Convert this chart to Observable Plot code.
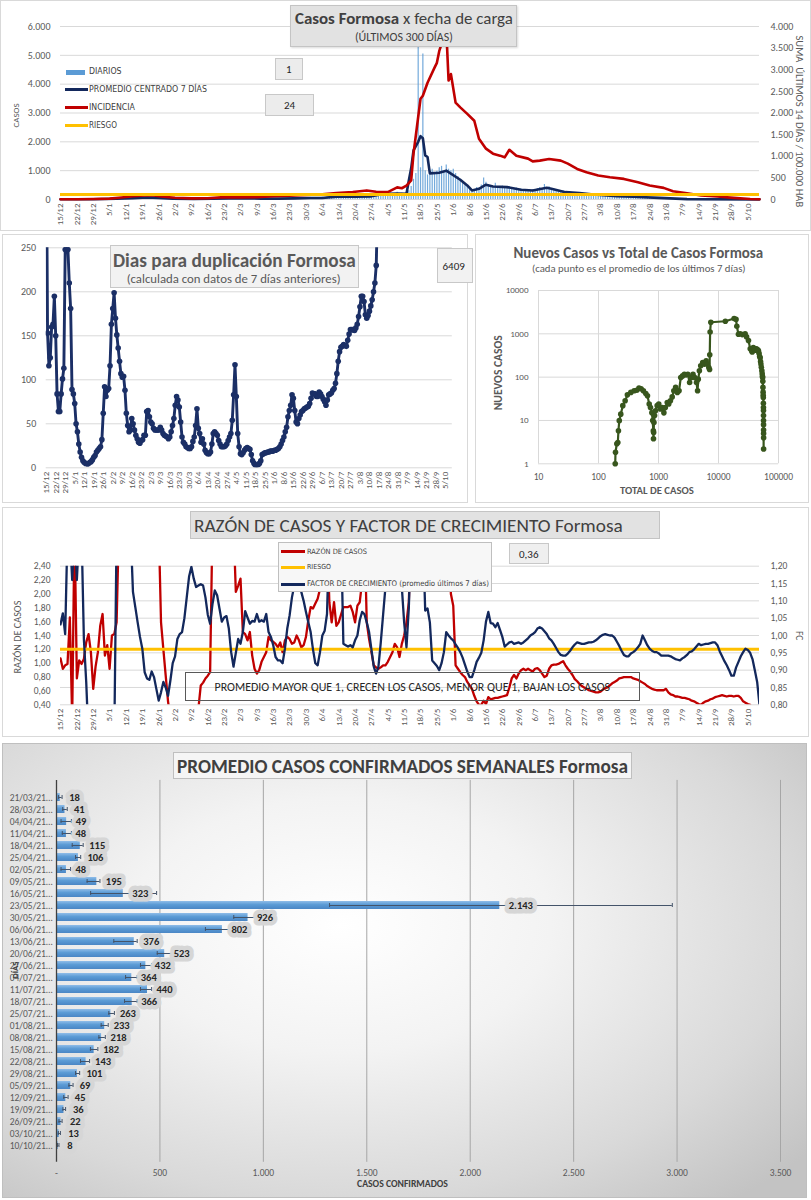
<!DOCTYPE html>
<html lang="es">
<head>
<meta charset="utf-8">
<script src="https://cdn.jsdelivr.net/npm/d3@7"></script>
<script src="https://cdn.jsdelivr.net/npm/@observablehq/plot@0.6"></script>
<style>
html,body{margin:0;padding:0;background:#fff;}
#root{position:relative;width:811px;height:1200px;overflow:hidden;background:#fff;}
</style>
</head>
<body>
<div id="root"></div>
<script>
// ================= DATA =================
// Panel 1: Casos Formosa x fecha de carga
const incidFechas = ["2020-12-15","2020-12-22","2020-12-29","2021-01-05","2021-01-10","2021-01-15","2021-01-20","2021-01-24","2021-01-28","2021-02-02","2021-02-09","2021-02-16","2021-02-23","2021-03-02","2021-03-09","2021-03-16","2021-03-23","2021-03-30","2021-04-06","2021-04-12","2021-04-19","2021-04-25","2021-04-29","2021-05-04","2021-05-08","2021-05-10","2021-05-12","2021-05-14","2021-05-15","2021-05-16","2021-05-18","2021-05-19","2021-05-21","2021-05-24","2021-05-25","2021-05-26","2021-05-27","2021-05-29","2021-05-30","2021-05-31","2021-06-02","2021-06-04","2021-06-07","2021-06-10","2021-06-12","2021-06-15","2021-06-18","2021-06-21","2021-06-23","2021-06-25","2021-06-28","2021-07-03","2021-07-05","2021-07-08","2021-07-12","2021-07-17","2021-07-20","2021-07-24","2021-07-28","2021-08-02","2021-08-07","2021-08-13","2021-08-19","2021-08-24","2021-08-30","2021-09-03","2021-09-09","2021-09-15","2021-09-22","2021-09-29","2021-10-06","2021-10-10"];
const incidValores = [5,5,10,20,45,75,95,95,65,40,25,30,55,50,55,75,90,105,120,150,175,210,180,170,280,260,320,440,1060,1480,2330,2400,2700,3050,3160,3430,3600,3950,2750,2900,2240,2130,1980,1820,1405,1175,1060,1014,975,1150,1014,945,882,899,937,899,829,707,630,553,514,476,399,322,269,192,145,92,69,38,10,5];
const promFechas = ["2020-12-15","2020-12-29","2021-01-08","2021-01-15","2021-01-21","2021-01-26","2021-02-01","2021-02-10","2021-02-18","2021-02-25","2021-03-04","2021-03-11","2021-03-18","2021-03-25","2021-04-01","2021-04-06","2021-04-12","2021-04-20","2021-04-27","2021-05-02","2021-05-08","2021-05-12","2021-05-13","2021-05-14","2021-05-15","2021-05-17","2021-05-18","2021-05-19","2021-05-20","2021-05-21","2021-05-22","2021-05-26","2021-05-29","2021-05-31","2021-06-04","2021-06-07","2021-06-09","2021-06-12","2021-06-15","2021-06-18","2021-06-24","2021-06-30","2021-07-05","2021-07-11","2021-07-13","2021-07-19","2021-07-25","2021-07-31","2021-08-10","2021-08-17","2021-08-28","2021-09-09","2021-10-10"];
const promValores = [10,10,25,45,70,55,25,15,25,40,40,30,30,40,50,50,100,100,110,190,210,200,660,1080,1700,2000,2195,2125,1530,1475,905,930,1000,895,686,488,314,372,512,453,430,340,314,406,372,255,220,174,116,93,58,12,5];
const diariosInicio = "2021-03-29";
const diarios = [40,55,30,
 70,45,60,50,65,80,45,90,70,100,60,110,95,130,85,100,120,90,105,85,120,95,110,130,100,140,95,110,150,120,
 180,160,200,170,230,190,210,250,180,220,190,240,300,450,700,900,6100,1100,5050,1000,850,950,1050,900,980,1100,1150,950,1200,1050,1000,
 1050,900,800,700,620,500,450,350,300,280,420,380,500,750,600,520,480,430,560,450,400,470,430,380,450,410,350,400,330,360,
 300,340,320,280,350,310,380,420,360,520,400,440,380,350,320,290,270,300,250,230,260,220,240,210,200,230,190,210,180,170,190,
 160,150,170,140,150,130,140,120,130,110,120,100,115,95,105,90,100,85,95,80,85,70,80,65,70,60,65,55,60,50,55,
 45,40,42,35,38,30,32,28,25,27,22,24,20,18,20,16,15,14,12,13,10,11,9,10,8,9,7,6,8,5,
 6,5,4,5,3,4,2,3,2,1];
const riesgoIncidencia = 115;
const inicioSerie = "2020-12-15"; // día 0 de las series diarias

// Panel 2a: días para duplicación (diario desde 15/12/2020)
const duplicacion = [400,153,116,125,160,163,195,150,84,64,
 64,84,101,113,248,300,248,210,181,89,
 84,73,50,41,27,18,12,8,6,5,
 4.5,4.5,6,7,9,12,14,18,20,22,
 24,32,62,92,81,88,90,116,163,181,
 199,170,151,136,121,107,103,104,88,62,
 48,41,43,56,50,43,37,33,29,28,
 31,32,37,37,64,65,58,52,50,45,
 43,43,43,43,46,43,39,37,36,35,
 33,35,41,48,56,71,81,77,69,52,
 35,29,27,24,23,22,22,24,30,35,
 48,67,45,39,29,33,27,20,17,16,
 16,18,27,39,41,39,37,31,27,24,
 24,24,25,27,31,35,39,54,83,117,
 81,39,24,16,15,17,20,22,23,22,
 21,15,8,5,3,3,3.5,5,8,15,
 16,17,17,18,18,19,19,19,20,20,
 21,22,24,27,31,35,41,46,58,65,
 71,83,79,65,52,50,56,60,64,65,
 67,68,69,70,73,79,85,84,84,81,
 81,86,84,81,78,75,71,77,83,84,
 85,88,90,96,107,121,132,137,138,140,
 139,138,145,152,157,157,157,156,159,163,
 172,183,195,195,189,174,170,173,178,184,
 191,200,210,230,300];

// Panel 2b: nuevos casos vs total de casos
const totalCasos = [190,192,202,210,215,222,235,254,278,303,346,393,435,473,513,560,614,655,700,735,775,800,820,825,830,840,860,890,950,1010,1080,1150,1230,1300,1400,1480,1580,1690,1800,1930,2060,2200,2350,2520,2700,2880,3080,3300,3520,3760,4020,4300,4480,4600,4800,5050,5450,5820,6230,6560,6900,7100,7150,7250,7450,13000,18200,19600,20200,21500,23000,25000,27800,29400,31600,33800,35900,36500,37200,38000,39000,40000,40800,41500,42500,43600,44500,45500,46400,47500,48500,49500,50300,51000,51800,52800,53500,54000,54400,54800,55100,55400,55600,55800,56000,56100,56200,56250,56300,56350,56400,56450,56480,56500];
const nuevosCasos = [1,1.85,2.9,3.1,5.8,9.9,14,22,28.5,39,44.5,48.5,50,56,54,48.5,42,37,24,20,15,10,5.8,3.8,5.3,9,13,16.8,22,24,18.4,20,15,20,26,24,28.5,35,48.5,58,44.5,48.5,98,107,117,113,117,75,98,117,98,75,48.5,90,140,183,218,200,237,200,166,150,330,1100,1850,1950,2250,2150,1500,980,1000,960,1000,850,700,450,400,380,420,480,460,430,440,420,450,440,410,420,400,350,300,280,230,200,170,140,120,105,98,80,58,45,38,34,25,20,17,13,10,8,6,5,4,2.2];

// Panel 3: razón de casos (eje izq.) y factor de crecimiento (eje der.), diarios desde 15/12/2020
const razonCasos = [1.07,0.92,0.97,0.99,1.66,0.2,3,0.78,1.04,0.99,
 1.06,1.30,1.42,1.16,0.63,0.95,1.16,1.54,1.71,1.11,
 1.26,0.92,1.40,1.42,1.59,3,3,3,3,3,
 3,3,3,3,3,3,3,3,3,3,
 3,3,3,1.59,1.20,0.82,0.45,0.2,0.2,0.2,
 0.2,0.2,0.2,0.2,0.2,0.2,0.2,0.2,0.2,0.35,
 0.68,0.72,0.78,0.82,0.87,3,3,3,3,3,
 3,3,3,3,3,2.03,2.12,2.22,1.45,1.42,
 1.33,1.45,1.11,0.92,0.85,0.90,1.02,1.09,1.16,1.38,
 1.33,1.31,1.28,1.23,1.30,1.16,1.33,1.38,1.35,1.28,
 1.30,1.40,1.33,1.23,1.26,1.38,1.62,1.81,1.79,1.86,
 1.93,2.07,3,3,3,1.88,1.59,1.88,1.54,1.59,
 1.70,1.81,1.81,1.81,1.83,1.74,1.59,1.83,1.88,2.17,
 3,1.59,1.35,1.16,0.97,0.94,0.92,0.94,0.97,0.97,
 1.02,1.09,1.16,1.28,1.23,1.09,1.28,1.40,1.59,1.88,
 3,3,3,3,3,3,3,3,3,3,
 3,3,3,3,3,3,3,2.00,1.83,0.97,
 0.92,0.87,0.83,0.80,0.73,0.68,0.63,0.53,0.45,0.40,
 0.40,0.46,0.41,0.51,0.48,0.49,0.50,0.50,0.51,0.52,
 0.53,0.54,0.65,0.78,0.83,0.78,0.85,0.90,0.92,0.90,
 0.92,0.90,0.88,0.92,0.93,0.90,0.85,0.80,0.82,0.92,
 0.97,0.98,0.98,0.99,1.01,1.03,0.97,0.92,0.88,0.83,
 0.77,0.74,0.70,0.67,0.65,0.63,0.61,0.60,0.59,0.58,
 0.58,0.59,0.62,0.64,0.65,0.68,0.71,0.73,0.75,0.78,
 0.79,0.80,0.80,0.80,0.80,0.78,0.77,0.76,0.74,0.72,
 0.70,0.67,0.65,0.63,0.62,0.61,0.61,0.61,0.61,0.63,
 0.58,0.55,0.54,0.52,0.52,0.51,0.50,0.50,0.49,0.48,
 0.46,0.45,0.43,0.41,0.40,0.43,0.45,0.46,0.48,0.49,
 0.51,0.52,0.53,0.54,0.53,0.52,0.53,0.53,0.52,0.53,
 0.53,0.50,0.45,0.43,0.41,0.40];
const factorCrecimiento = [1.032,1.064,1.004,1.3,1.3,1.16,1.3,1.16,1.3,1.3,
 0.99,0.866,0.7,0.7,0.7,0.7,0.7,0.7,0.7,0.7,
 0.7,0.7,0.7,0.7,1.3,1.3,1.3,1.3,1.3,1.3,
 1.3,1.126,1.082,1.038,0.996,0.962,0.894,0.876,0.872,0.896,
 0.88,0.846,0.812,0.836,0.866,0.85,0.826,0.87,0.92,0.94,
 0.99,1.004,1.01,1.05,1.11,1.17,1.198,1.164,1.14,1.144,
 1.148,1.144,1.11,1.06,1.034,1.09,1.13,1.116,1.078,1.04,
 1.052,1.056,1.02,0.952,0.91,0.95,0.99,0.976,1.01,1.07,
 1.052,1.034,1.042,1.04,1.062,1.04,1.044,1.04,1.062,1.01,
 0.996,0.972,0.938,0.928,0.928,0.92,0.962,1.02,1.058,1.11,
 1.144,1.3,1.3,1.126,1.10,1.068,1.038,1.01,0.96,0.92,
 0.914,0.952,1.00,1.014,1.062,1.3,1.3,1.3,1.3,1.3,
 1.3,0.976,0.972,0.968,0.972,0.966,0.986,1.00,1.044,1.068,
 1.062,1.038,1.01,0.96,0.91,0.89,0.91,0.98,1.06,1.14,
 1.3,1.3,1.3,1.3,1.3,1.3,1.14,1.038,0.966,1.08,
 1.3,1.3,1.3,1.3,1.3,1.3,1.072,1.078,1.038,0.928,
 0.92,0.912,0.90,0.92,0.952,1.01,1.00,0.992,0.986,0.974,
 0.964,0.952,0.936,0.916,0.896,0.88,0.88,0.90,0.924,0.936,
 0.95,0.986,1.04,1.068,1.036,1.034,1.024,1.036,1.016,0.996,
 0.968,0.974,0.98,0.982,0.976,0.978,0.98,0.976,0.98,0.986,
 0.992,1.00,1.004,1.01,1.02,1.024,1.02,1.012,1.004,0.992,
 0.986,0.976,0.964,0.952,0.944,0.942,0.942,0.948,0.956,0.966,
 0.974,0.98,0.978,0.976,0.976,0.978,0.98,0.98,0.982,0.986,
 0.992,0.998,1.002,1.004,1.002,1.00,1.00,0.994,0.982,0.97,
 0.956,0.944,0.94,0.94,0.948,0.952,0.958,0.966,0.976,1.00,
 0.986,0.972,0.962,0.956,0.952,0.952,0.948,0.942,0.942,0.942,
 0.942,0.94,0.936,0.932,0.93,0.928,0.934,0.938,0.944,0.952,
 0.954,0.96,0.968,0.976,0.972,0.974,0.976,0.976,0.978,0.98,
 0.98,0.972,0.954,0.94,0.926,0.914,0.90,0.884,0.884,0.908,
 0.924,0.94,0.952,0.962,0.958,0.95,0.932,0.90,0.866,0.80];
const riesgoRazon = 1.2;

// Panel 4: promedio casos confirmados semanales
const semanas = ["21/03/21","28/03/21","04/04/21","11/04/21","18/04/21","25/04/21","02/05/21","09/05/21","16/05/21","23/05/21","30/05/21","06/06/21","13/06/21","20/06/21","27/06/21","04/07/21","11/07/21","18/07/21","25/07/21","01/08/21","08/08/21","15/08/21","22/08/21","29/08/21","05/09/21","12/09/21","19/09/21","26/09/21","03/10/21","10/10/21"];
const promedioSemanal = [18,41,49,48,115,106,48,195,323,2143,926,802,376,523,432,364,440,366,263,233,218,182,143,101,69,45,36,22,13,8];
const errorInferior = [10,30,22,28,76,92,22,148,165,1320,857,720,277,487,406,334,406,329,253,216,205,164,116,92,60,35,31,12,9,5];
const errorSuperior = [27,52,72,72,129,117,68,210,484,2977,995,880,390,560,460,390,460,390,280,250,236,200,160,112,80,56,44,27,19,12];

// ================= HELPERS =================
const FONT = 'Carlito, Lato, "Open Sans", sans-serif';
const NARROW = '"Liberation Sans Narrow", "DejaVu Sans Condensed", "Roboto Condensed", Roboto, sans-serif';
const loc = d3.formatLocale({decimal: ",", thousands: ".", grouping: [3], currency: ["", ""]});
const fInt = loc.format(",.0f");
const fDec2 = loc.format(".2f");
const utc = s => new Date(s + "T00:00:00Z");
const day0 = utc(inicioSerie);
const dayN = d => d3.utcDay.offset(day0, d);
const weekTicks = d3.range(0, 295, 7).map(dayN);
const fmtDM = d3.utcFormat("%-d/%-m");
const root = document.getElementById("root");

function box(x, y, w, h, style = {}) {
  const d = document.createElement("div");
  Object.assign(d.style, {position: "absolute", left: x + "px", top: y + "px", width: w + "px", height: h + "px", boxSizing: "border-box"}, style);
  root.appendChild(d);
  return d;
}
function label(html, o) {
  const el = document.createElement("div");
  el.innerHTML = html;
  Object.assign(el.style, {position: "absolute", whiteSpace: "nowrap", lineHeight: "1", fontFamily: o.family || FONT,
    fontSize: o.size + "px", fontWeight: o.weight || "normal", color: o.color || "#595959", left: "0px", top: "0px"});
  root.appendChild(el);
  if (o.w) {
    const m = el.getBoundingClientRect().width;
    if (m > 0) {
      const k = Math.max(0.6, Math.min(1.6, o.w / m));
      el.style.fontSize = (o.size * k) + "px";
    }
  }
  const w = el.offsetWidth, h = el.offsetHeight;
  const left = o.cx != null ? o.cx - w / 2 : o.x;
  el.style.left = left + "px";
  el.style.top = (o.cy - h / 2) + "px";
  if (o.rotate) el.style.transform = `rotate(${o.rotate}deg)`;
  return el;
}
function place(svg, x, y) {
  svg.style.position = "absolute";
  svg.style.left = x + "px";
  svg.style.top = y + "px";
  root.appendChild(svg);
}
const baseStyle = {background: "transparent", fontFamily: FONT, fontSize: "9px", color: "#595959", overflow: "visible"};
const FRAME = {border: "1px solid #d9d9d9", background: "#fff"};

// ================= PANEL FRAMES =================
box(0, 0, 811, 231, FRAME);
box(2, 234, 466, 269, FRAME);
box(475, 234, 334, 269, FRAME);
box(2, 507, 807, 230, FRAME);
box(2, 743, 805, 455, {border: "1px solid #bfbfbf",
  background: "radial-gradient(ellipse 75% 80% at 42% 40%, #ffffff 0%, #f3f3f3 35%, #d9d9d9 75%, #c3c3c3 100%)"});

// ================= PANEL 1 =================
const incid = incidFechas.map((f, i) => ({date: utc(f), v: incidValores[i]}));
const prom = promFechas.map((f, i) => ({date: utc(f), v: promValores[i]}));
const d0b = utc(diariosInicio);
const diariosData = diarios.map((v, i) => ({date: d3.utcDay.offset(d0b, i), v}));
const K = 6000 / 4000; // eje derecho -> eje izquierdo

const p1 = Plot.plot({
  width: 811, height: 232, marginLeft: 60, marginRight: 52, marginTop: 26, marginBottom: 33,
  style: baseStyle,
  x: {type: "utc", domain: [day0, dayN(299)]},
  y: {domain: [0, 6000]},
  marks: [
    Plot.gridY(d3.range(0, 6001, 1000), {stroke: "#d9d9d9", strokeOpacity: 1}),
    Plot.axisY({ticks: d3.range(0, 6001, 1000), tickFormat: fInt, tickSize: 0, tickPadding: 10, label: null, fontSize: 10}),
    Plot.text(d3.range(0, 4001, 500), {y: d => d * K, text: d => fInt(d), frameAnchor: "right", dx: 11, textAnchor: "start", fontSize: 10, fill: "#595959"}),
    Plot.axisX({ticks: weekTicks, tickFormat: fmtDM, tickRotate: -90, tickSize: 0, tickPadding: 4, label: null, fontSize: 9}),
    Plot.ruleX(diariosData, {x: "date", y: "v", stroke: "#5b9bd5", strokeWidth: 1.2, strokeOpacity: 0.85}),
    Plot.line(prom, {x: "date", y: "v", stroke: "#13285c", strokeWidth: 2.6}),
    Plot.line(incid, {x: "date", y: d => d.v * K, stroke: "#c00000", strokeWidth: 2.6}),
    Plot.ruleY([riesgoIncidencia * K], {stroke: "#ffc000", strokeWidth: 3})
  ]
});
place(p1, 0, 0);

// overlays panel 1
box(290, 5, 227, 42, {background: "#e2e2e2", border: "1px solid #c4c4c4", boxShadow: "1px 1px 2px rgba(0,0,0,0.15)"});
label('<b>Casos Formosa</b> x fecha de carga', {cx: 404, cy: 19, size: 15, w: 218, color: "#404040"});
label('(ÚLTIMOS 300 DÍAS)', {cx: 404, cy: 38, size: 10, w: 98, color: "#404040"});
box(66, 69.5, 19, 5, {background: "#5b9bd5"});
box(65, 87.7, 23, 3, {background: "#13285c"});
box(65, 105.8, 23, 3, {background: "#c00000"});
box(65, 123.8, 23, 3, {background: "#ffc000"});
label('DIARIOS', {x: 89, cy: 71.7, size: 8.5, w: 32.6, family: NARROW, color: "#404040"});
label('PROMEDIO CENTRADO 7 DÍAS', {x: 89, cy: 89.3, size: 8.5, w: 118, family: NARROW, color: "#404040"});
label('INCIDENCIA', {x: 89, cy: 107.4, size: 8.5, w: 46, family: NARROW, color: "#404040"});
label('RIESGO', {x: 89, cy: 125.4, size: 8.5, w: 28, family: NARROW, color: "#404040"});
box(275, 58, 28, 22, {background: "#ececec", border: "1px solid #c8c8c8"});
label('1', {cx: 289, cy: 69, size: 11, color: "#262626"});
box(265, 94, 49, 22, {background: "#ececec", border: "1px solid #c8c8c8"});
label('24', {cx: 289.5, cy: 105, size: 11, color: "#262626"});
label('CASOS', {cx: 15.5, cy: 115, size: 9, w: 24, rotate: -90});
label('SUMA&nbsp;&nbsp;ÚLTIMOS 14 DÍAS / 100.000 HAB', {cx: 799, cy: 121, size: 10, w: 172, rotate: 90});

// ================= PANEL 2a =================
const dup = duplicacion.map((v, i) => ({date: dayN(i), v}));
const p2 = Plot.plot({
  width: 470, height: 273, marginLeft: 45.7, marginRight: 18.2, marginTop: 17.3, marginBottom: 35.7,
  style: baseStyle,
  x: {type: "utc", domain: [day0, dayN(299)]},
  y: {domain: [0, 250]},
  marks: [
    Plot.gridY([0, 50, 100, 150, 200, 250], {stroke: "#d9d9d9", strokeOpacity: 1}),
    Plot.axisY({ticks: [0, 50, 100, 150, 200, 250], tickSize: 0, tickPadding: 10, label: null, fontSize: 10}),
    Plot.axisX({ticks: weekTicks, tickFormat: fmtDM, tickRotate: -90, tickSize: 0, tickPadding: 4, label: null, fontSize: 9}),
    Plot.line(dup, {x: "date", y: "v", stroke: "#1b2f66", strokeWidth: 2.9, clip: true}),
    Plot.dot(dup, {x: "date", y: "v", r: 2.8, fill: "#1b2f66", clip: true})
  ]
});
place(p2, 0, 230);
box(110, 245, 249, 43, {background: "#f2f2f2", border: "1px solid #c8c8c8"});
label('Dias para duplicación Formosa', {cx: 234.5, cy: 260, size: 18, w: 243, weight: "bold"});
label('(calculada con datos de 7 días anteriores)', {cx: 233.7, cy: 279.3, size: 12.5, w: 214});
box(437, 248, 36, 35, {background: "#f2f2f2", border: "1px solid #c8c8c8"});
label('6409', {cx: 453.5, cy: 266, size: 11, color: "#262626"});

// ================= PANEL 2b =================
const sc = totalCasos.map((t, i) => ({t, n: nuevosCasos[i]}));
const dec = [10, 100, 1000, 10000, 100000];
const decY = [1, 10, 100, 1000, 10000];
const p3 = Plot.plot({
  width: 341, height: 273, marginLeft: 68, marginRight: 33, marginTop: 60, marginBottom: 39.7,
  style: baseStyle,
  x: {type: "log", domain: [10, 100000]},
  y: {type: "log", domain: [1, 10000]},
  marks: [
    Plot.gridX(dec, {stroke: "#d9d9d9", strokeOpacity: 1}),
    Plot.gridY(decY, {stroke: "#d9d9d9", strokeOpacity: 1}),
    Plot.axisX({ticks: dec, tickFormat: d => String(d), tickSize: 0, tickPadding: 9, label: null, fontSize: 9.5}),
    Plot.axisY({ticks: decY, tickFormat: d => String(d), tickSize: 0, tickPadding: 10, label: null, fontSize: 9}),
    Plot.line(sc, {x: "t", y: "n", stroke: "#38561d", strokeWidth: 2.2}),
    Plot.dot(sc, {x: "t", y: "n", r: 2.8, fill: "#38561d"})
  ]
});
place(p3, 470, 230);
label('Nuevos Casos vs Total de Casos Formosa', {cx: 638.5, cy: 253, size: 15, w: 250, weight: "bold"});
label('(cada punto es el promedio de los últimos 7 días)', {cx: 639, cy: 269, size: 10, w: 214});
label('NUEVOS CASOS', {cx: 498, cy: 372.5, size: 10, w: 75, weight: "bold", rotate: -90});
label('TOTAL DE CASOS', {cx: 657, cy: 491.5, size: 10, w: 74, weight: "bold"});

// ================= PANEL 3 =================
const toL = f => (f - 0.72) * 5; // FC (eje der.) -> eje izq.
const razon = razonCasos.map((v, i) => ({date: dayN(i), v}));
const fc = factorCrecimiento.map((v, i) => ({date: dayN(i), v}));
const fcTicks = d3.range(0, 9).map(i => 0.8 + i * 0.05);
const p4 = Plot.plot({
  width: 811, height: 230, marginLeft: 60, marginRight: 52, marginTop: 58.7, marginBottom: 32.7,
  style: baseStyle,
  x: {type: "utc", domain: [day0, dayN(299)]},
  y: {domain: [0.4, 2.4]},
  marks: [
    Plot.gridY(fcTicks.map(toL), {stroke: "#d9d9d9", strokeOpacity: 1}),
    Plot.axisY({ticks: d3.range(0, 11).map(i => 0.4 + i * 0.2), tickFormat: fDec2, tickSize: 0, tickPadding: 10, label: null, fontSize: 9.5}),
    Plot.text(fcTicks, {y: toL, text: d => fDec2(d), frameAnchor: "right", dx: 11, textAnchor: "start", fontSize: 9.5, fill: "#595959"}),
    Plot.axisX({ticks: weekTicks, tickFormat: fmtDM, tickRotate: -90, tickSize: 0, tickPadding: 4, label: null, fontSize: 9}),
    Plot.line(razon, {x: "date", y: "v", stroke: "#c00000", strokeWidth: 2.3, clip: true}),
    Plot.ruleY([riesgoRazon], {stroke: "#ffc000", strokeWidth: 3}),
    Plot.line(fc, {x: "date", y: d => toL(d.v), stroke: "#13285c", strokeWidth: 2.3, clip: true})
  ]
});
place(p4, 0, 507);
box(190, 511, 470, 28, {background: "#e2e2e2", border: "1px solid #c4c4c4"});
label('RAZÓN DE CASOS Y FACTOR DE CRECIMIENTO Formosa', {cx: 408.5, cy: 525, size: 18, w: 429, color: "#404040"});
box(278, 542, 214, 50, {background: "#f7f7f7", border: "1px solid #bfbfbf"});
box(281, 550.2, 24, 3, {background: "#c00000"});
box(281, 566.2, 24, 3, {background: "#ffc000"});
box(281, 582.5, 24, 3, {background: "#13285c"});
label('RAZÓN DE CASOS', {x: 307, cy: 551.7, size: 7.5, w: 60, family: NARROW, color: "#404040"});
label('RIESGO', {x: 307, cy: 567.7, size: 7.5, w: 24, family: NARROW, color: "#404040"});
label('FACTOR DE CRECIMIENTO (promedio últimos 7 días)', {x: 307, cy: 584, size: 7.5, w: 182, family: NARROW, color: "#404040"});
box(508.5, 542.7, 40, 21.6, {background: "#efefef", border: "1px solid #c8c8c8"});
label('0,36', {cx: 528.5, cy: 554, size: 11, color: "#262626"});
box(185, 672, 455, 29, {border: "1px solid #595959"});
label('PROMEDIO MAYOR QUE 1, CRECEN LOS CASOS, MENOR QUE 1, BAJAN LOS CASOS', {cx: 412.6, cy: 687.5, size: 11.5, w: 396, color: "#262626"});
label('RAZÓN DE CASOS', {cx: 18.3, cy: 636.5, size: 9.5, w: 73, rotate: -90});
label('FC', {cx: 798, cy: 636, size: 9.5, rotate: 90});

// ================= PANEL 4 =================
const weekly = semanas.map((w, i) => ({w, v: promedioSemanal[i], lo: errorInferior[i], hi: errorSuperior[i]}));
const gradMark = () => {
  const ns = "http://www.w3.org/2000/svg";
  const defs = document.createElementNS(ns, "defs");
  defs.innerHTML = '<linearGradient id="gBar" x1="0" y1="0" x2="0" y2="1"><stop offset="0" stop-color="#8fbde9"/><stop offset="0.45" stop-color="#5b9bd5"/><stop offset="1" stop-color="#4a86c5"/></linearGradient>';
  return defs;
};
const p5 = Plot.plot({
  width: 811, height: 455, marginLeft: 56, marginRight: 31, marginTop: 36.9, marginBottom: 36.2,
  style: baseStyle,
  x: {domain: [0, 3500]},
  y: {type: "band", domain: semanas, padding: 0.34},
  marks: [
    gradMark,
    Plot.ruleX(d3.range(500, 3501, 500), {stroke: "#a6a6a6", strokeWidth: 1}),
    Plot.barX(weekly, {x: "v", y: "w", fill: "url(#gBar)"}),
    Plot.ruleY(weekly, {y: "w", x1: "lo", x2: "hi", stroke: "#44546a", strokeWidth: 1}),
    Plot.tickX(weekly, {x: "lo", y: "w", stroke: "#44546a", strokeWidth: 1, insetTop: 2, insetBottom: 2}),
    Plot.tickX(weekly, {x: "hi", y: "w", stroke: "#44546a", strokeWidth: 1, insetTop: 2, insetBottom: 2}),
    Plot.text(weekly, {x: "v", y: "w", text: d => fInt(d.v), dx: 9, textAnchor: "start", fontWeight: "bold", fontSize: 10.5, fill: "#d6d6d6", stroke: "#d6d6d6", strokeWidth: 9, strokeLinejoin: "round"}),
    Plot.text(weekly, {x: "v", y: "w", text: d => fInt(d.v), dx: 9, textAnchor: "start", fontWeight: "bold", fontSize: 10.5, fill: "#262626"}),
    Plot.ruleX([0], {stroke: "#404040", strokeWidth: 1.3}),
    Plot.axisY({tickFormat: w => w + "…", tickSize: 0, tickPadding: 4, label: null, fontSize: 9.5}),
    Plot.axisX({ticks: d3.range(0, 3501, 500), tickFormat: d => d === 0 ? "-" : fInt(d), tickSize: 0, tickPadding: 7, label: null, fontSize: 9.5})
  ]
});
place(p5, 0, 743);
box(173, 752, 459, 26.5, {background: "#f5f5f5", border: "1px solid #bfbfbf"});
label('PROMEDIO CASOS CONFIRMADOS SEMANALES Formosa', {cx: 402.5, cy: 766, size: 19, w: 451, weight: "bold", color: "#404040"});
label('CASOS CONFIRMADOS', {cx: 402.5, cy: 1185, size: 9, w: 91, weight: "bold", color: "#404040"});
label('DÍAS', {cx: 15, cy: 970, size: 8, w: 17, weight: "bold", color: "#404040", rotate: -90});
</script>
</body>
</html>
